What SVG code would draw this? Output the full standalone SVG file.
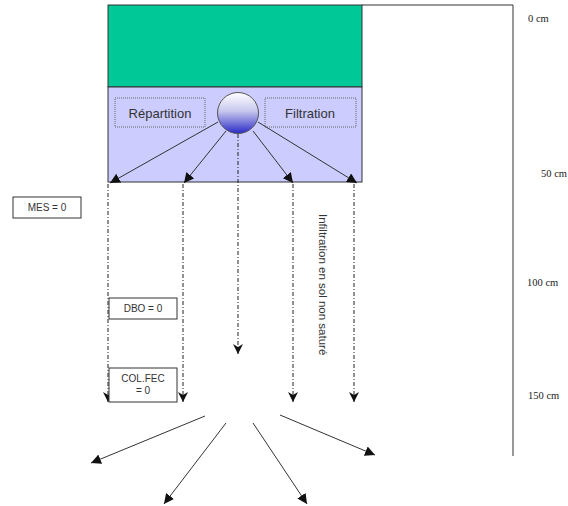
<svg xmlns="http://www.w3.org/2000/svg" width="568" height="506" viewBox="0 0 568 506">
<defs>
<style>
.t{font-family:"Liberation Sans",Arial,sans-serif;fill:#333;}
.s{font-family:"Liberation Serif","Times New Roman",serif;fill:#222;font-size:10.5px;}
.ln{stroke:#333;stroke-width:1;fill:none;}
.dd{stroke:#222;stroke-width:1;fill:none;stroke-dasharray:4 2 1 2;}
.box{fill:#fff;stroke:#333;stroke-width:1;}
.dot{fill:none;stroke:#666;stroke-width:1;stroke-dasharray:1 1;}
</style>
<marker id="a" viewBox="0 0 10 10" refX="10" refY="5" markerWidth="10" markerHeight="10" orient="auto" markerUnits="userSpaceOnUse"><path d="M0,0 L10,5 L0,10 z" fill="#111"/></marker>
<marker id="v" viewBox="0 0 10 10" refX="10" refY="5" markerWidth="10" markerHeight="10" orient="auto" markerUnits="userSpaceOnUse"><path d="M0,0 L10,5 L0,10 L3,5 z" fill="#111"/></marker>
<linearGradient id="g" x1="0" y1="0" x2="0" y2="1"><stop offset="0" stop-color="#ffffff"/><stop offset="0.45" stop-color="#c8c8ee"/><stop offset="1" stop-color="#2a2ac8"/></linearGradient>
</defs>
<g id="scale">
<polyline class="ln" points="362,5 513,5 513,456"/>
<text class="s" x="528" y="22">0 cm</text>
<text class="s" x="541" y="177">50 cm</text>
<text class="s" x="527" y="286">100 cm</text>
<text class="s" x="528" y="399">150 cm</text>
</g>
<g id="bed">
<rect x="108" y="5" width="254" height="82" fill="#00c896" stroke="#333" stroke-width="1"/>
<rect x="108" y="87" width="254" height="95" fill="#ccccff" stroke="#333" stroke-width="1"/>
</g>
<g id="repartition">
<rect class="dot" x="115" y="98" width="90" height="29"/>
<text class="t" x="160" y="118" font-size="13" text-anchor="middle">Répartition</text>
</g>
<g id="filtration">
<rect class="dot" x="265" y="98" width="91" height="29"/>
<text class="t" x="310" y="118" font-size="13" text-anchor="middle">Filtration</text>
</g>
<g id="connectors">
<line class="ln" x1="218" y1="122" x2="110" y2="183" marker-end="url(#a)"/>
<line class="ln" x1="226" y1="131" x2="184" y2="183" marker-end="url(#a)"/>
<line class="ln" x1="253" y1="131" x2="293" y2="183" marker-end="url(#a)"/>
<line class="ln" x1="258" y1="122" x2="357" y2="183" marker-end="url(#a)"/>
<line class="dd" x1="238" y1="134" x2="238" y2="354" marker-end="url(#v)"/>
<line class="dd" x1="108" y1="184" x2="108" y2="402" marker-end="url(#v)"/>
<line class="dd" x1="183" y1="184" x2="183" y2="402" marker-end="url(#v)"/>
<line class="dd" x1="293" y1="184" x2="293" y2="402" marker-end="url(#v)"/>
<line class="dd" x1="354" y1="184" x2="354" y2="402" marker-end="url(#v)"/>
<line class="ln" x1="205" y1="416" x2="91" y2="463" marker-end="url(#a)"/>
<line class="ln" x1="226" y1="423" x2="164" y2="504" marker-end="url(#a)"/>
<line class="ln" x1="253" y1="423" x2="307" y2="504" marker-end="url(#a)"/>
<line class="ln" x1="280" y1="415" x2="375" y2="455" marker-end="url(#a)"/>
</g>
<g id="sphere">
<circle cx="238" cy="113" r="20.5" fill="url(#g)" stroke="#555" stroke-width="1"/>
</g>
<g id="label-infiltration">
<text class="t" font-size="11.5" transform="translate(319,214) rotate(90)">Infiltration en sol non saturé</text>
</g>
<g id="mes">
<rect class="box" x="13" y="197" width="68" height="21"/>
<text class="t" x="47" y="211" font-size="10" text-anchor="middle">MES = 0</text>
</g>
<g id="dbo">
<rect class="box" x="109" y="298" width="68" height="21"/>
<text class="t" x="143" y="312" font-size="10" text-anchor="middle">DBO = 0</text>
</g>
<g id="colfec">
<rect class="box" x="109" y="368" width="68" height="34"/>
<text class="t" x="143" y="382" font-size="10" text-anchor="middle">COL.FEC</text>
<text class="t" x="143" y="394" font-size="10" text-anchor="middle">= 0</text>
</g>
</svg>
